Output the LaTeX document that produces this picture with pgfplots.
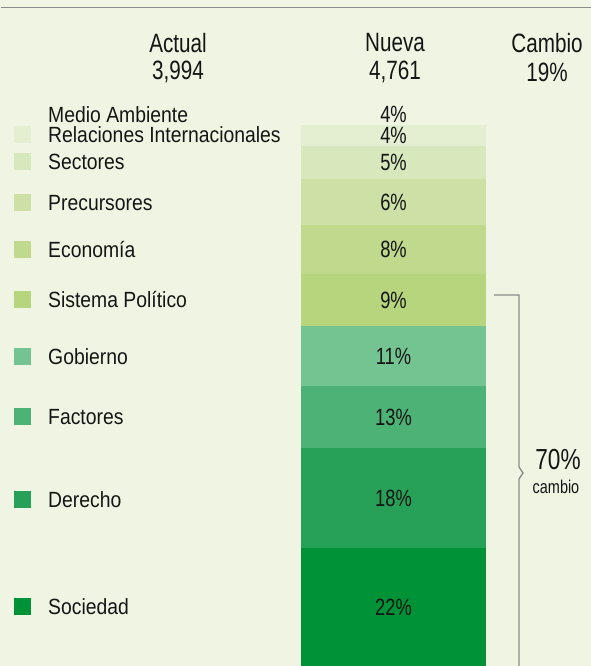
\documentclass[border=0pt]{standalone}
\usepackage{fontspec}
\setmainfont{Liberation Sans}[FakeStretch=0.78]
\newfontfamily\legfont{Liberation Sans}[FakeStretch=0.88]
\usepackage{pgfplots}
\pgfplotsset{compat=1.18}

\definecolor{bg}{HTML}{F0F4E2}
\definecolor{cRel}{HTML}{E3EFD0}
\definecolor{cSec}{HTML}{D8E8BD}
\definecolor{cPre}{HTML}{CDE1A6}
\definecolor{cEco}{HTML}{C0D98C}
\definecolor{cSis}{HTML}{B7D57C}
\definecolor{cGob}{HTML}{74C492}
\definecolor{cFac}{HTML}{4DB275}
\definecolor{cDer}{HTML}{27A157}
\definecolor{cSoc}{HTML}{009237}
\definecolor{txt}{HTML}{151515}
\definecolor{linegray}{HTML}{8C8C8C}

\tikzset{
  barlbl/.style={font=\fontsize{23.5}{27}\selectfont, inner sep=0pt, text=txt},
  leglbl/.style={font=\legfont\fontsize{22}{25}\selectfont, anchor=west, inner sep=0pt, text=txt},
  hdr/.style={font=\fontsize{26.5}{30}\selectfont, inner sep=0pt, text=txt},
}
\pgfplotsset{
  canvas/.style={
    at={(0,0)}, anchor=south west,
    scale only axis, width=591pt, height=666pt,
    xmin=0, xmax=591, ymin=0, ymax=666,
    hide axis, clip=false,
  },
}

\begin{document}
\begin{tikzpicture}
\fill[bg] (0,0) rectangle (591pt,666pt);
\begin{axis}[canvas, ybar stacked, bar width=185pt]

% segment heights (px), bottom to top
\addplot[fill=cSoc, draw=none] coordinates {(393.5,118)};
\addplot[fill=cDer, draw=none] coordinates {(393.5,100)};
\addplot[fill=cFac, draw=none] coordinates {(393.5,62)};
\addplot[fill=cGob, draw=none] coordinates {(393.5,60)};
\addplot[fill=cSis, draw=none] coordinates {(393.5,52)};
\addplot[fill=cEco, draw=none] coordinates {(393.5,49)};
\addplot[fill=cPre, draw=none] coordinates {(393.5,46)};
\addplot[fill=cSec, draw=none] coordinates {(393.5,33)};
\addplot[fill=cRel, draw=none] coordinates {(393.5,21)};

% legend keys
\fill[cSoc] (axis cs:14,50.5) rectangle (axis cs:31,67.5);
\fill[cDer] (axis cs:14,157.5) rectangle (axis cs:31,174.5);
\fill[cFac] (axis cs:14,240.5) rectangle (axis cs:31,257.5);
\fill[cGob] (axis cs:14,300.5) rectangle (axis cs:31,317.5);
\fill[cSis] (axis cs:14,357.5) rectangle (axis cs:31,374.5);
\fill[cEco] (axis cs:14,407.5) rectangle (axis cs:31,424.5);
\fill[cPre] (axis cs:14,454.5) rectangle (axis cs:31,471.5);
\fill[cSec] (axis cs:14,495.5) rectangle (axis cs:31,512.5);
\fill[cRel] (axis cs:14,522.5) rectangle (axis cs:31,539.5);

\node[leglbl] at (axis cs:48,59) {Sociedad};
\node[leglbl] at (axis cs:48,166) {Derecho};
\node[leglbl] at (axis cs:48,249) {Factores};
\node[leglbl] at (axis cs:48,309) {Gobierno};
\node[leglbl] at (axis cs:48,366) {Sistema Político};
\node[leglbl] at (axis cs:48,416) {Economía};
\node[leglbl] at (axis cs:48,463) {Precursores};
\node[leglbl] at (axis cs:48,504) {Sectores};
\node[leglbl] at (axis cs:48,531) {Relaciones Internacionales};
\node[leglbl] at (axis cs:48,551) {Medio Ambiente};

% headers
\node[hdr] at (axis cs:178,623) {Actual};
\node[hdr] at (axis cs:178,594) {3,994};
\node[hdr] at (axis cs:395,623) {Nueva};
\node[hdr] at (axis cs:395,594) {4,761};
\node[hdr] at (axis cs:547,623) {Cambio};
\node[hdr] at (axis cs:547,594) {19\%};

% top rule
\draw[linegray, line width=1.2pt] (axis cs:1,658.5) -- (axis cs:591,658.5);

% bracket
\draw[linegray, line width=1.3pt] (axis cs:494,371) -- (axis cs:519,371) -- (axis cs:519,199)
    -- (axis cs:523,193) -- (axis cs:519,187) -- (axis cs:519,0);
\node[font=\fontsize{29}{32}\selectfont, inner sep=0pt, text=txt] at (axis cs:558,206) {70\%};
\node[font=\fontsize{18.5}{20}\selectfont, inner sep=0pt, text=txt] at (axis cs:556,179) {cambio};
\end{axis}

% percentages on top of the bar
\begin{axis}[canvas]
\node[barlbl] at (axis cs:393.5,59) {22\%};
\node[barlbl] at (axis cs:393.5,168) {18\%};
\node[barlbl] at (axis cs:393.5,249) {13\%};
\node[barlbl] at (axis cs:393.5,310) {11\%};
\node[barlbl] at (axis cs:393.5,366) {9\%};
\node[barlbl] at (axis cs:393.5,416.5) {8\%};
\node[barlbl] at (axis cs:393.5,464) {6\%};
\node[barlbl] at (axis cs:393.5,503.5) {5\%};
\node[barlbl] at (axis cs:393.5,530.5) {4\%};
\node[barlbl] at (axis cs:393.5,552) {4\%};
\end{axis}
\pgfresetboundingbox
\useasboundingbox (0,0) rectangle (591pt,666pt);
\end{tikzpicture}
\end{document}
